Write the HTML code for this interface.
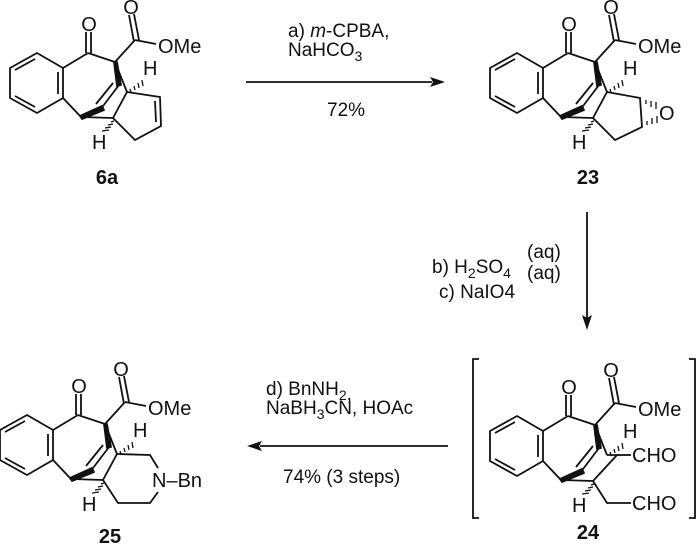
<!DOCTYPE html>
<html><head><meta charset="utf-8"><style>
html,body{margin:0;padding:0;background:#fff;}
svg{display:block;}
text{font-family:"Liberation Sans",Arial,sans-serif;fill:#111;}
</style></head><body>
<svg width="700" height="546" viewBox="0 0 700 546" xmlns="http://www.w3.org/2000/svg">
<defs>
<g id="core" stroke="#111" stroke-width="1.8" fill="none" stroke-linejoin="round">
  <polygon points="37,53 10,68 10,98 37,113 63,98 63,68"/>
  <line x1="35" y1="59" x2="15" y2="70"/>
  <line x1="15" y1="96" x2="35" y2="107"/>
  <line x1="58" y1="72" x2="58" y2="94"/>
  <line x1="63" y1="68" x2="88" y2="53"/>
  <line x1="86" y1="53" x2="86" y2="32"/>
  <line x1="91" y1="53" x2="91" y2="32"/>
  <line x1="88" y1="53" x2="115" y2="62"/>
  <line x1="115" y1="62" x2="135" y2="40"/>
  <line x1="134" y1="42" x2="129" y2="15"/>
  <line x1="139" y1="40" x2="134" y2="14"/>
  <line x1="135" y1="40" x2="156" y2="44"/>
  <line x1="63" y1="98" x2="81" y2="117"/>
  <line x1="81" y1="117" x2="113" y2="118"/>
  <polygon points="114,62 117,62 121,85 117,86" fill="#111"/>
  <line x1="119" y1="85" x2="100" y2="110"/>
  <line x1="113" y1="83" x2="96" y2="104"/>
  <polygon points="80,116 102,106 104,110 82,119" fill="#111"/>
  <line x1="115" y1="62" x2="127" y2="92"/>
</g>
<g id="hashes" stroke="#111" stroke-width="1.3">
  <line x1="130" y1="89" x2="131" y2="92"/>
  <line x1="134" y1="86" x2="135" y2="90"/>
  <line x1="138" y1="83" x2="139" y2="88"/>
  <line x1="142" y1="80" x2="143" y2="86"/>
  <line x1="111" y1="122" x2="114" y2="121"/>
  <line x1="108" y1="125" x2="113" y2="124"/>
  <line x1="105" y1="128" x2="111" y2="127"/>
  <line x1="102" y1="131" x2="109" y2="130"/>
</g>
<g id="labels" font-size="20">
  <text x="89" y="31" text-anchor="middle">O</text>
  <text x="131" y="14" text-anchor="middle">O</text>
  <text x="158" y="53">OMe</text>
  <text x="143" y="75">H</text>
  <text x="92" y="149">H</text>
</g>
</defs>

<g>
  <use href="#core"/><use href="#hashes"/><use href="#labels"/>
  <g stroke="#111" stroke-width="1.8" fill="none">
    <polyline points="127,92 160,97 161,126 135,140 113,118 127,92"/>
    <line x1="155" y1="101" x2="156" y2="122"/>
  </g>
</g>
<text x="107" y="184" font-size="20" font-weight="bold" text-anchor="middle">6a</text>

<g transform="translate(480,0)">
  <use href="#core"/><use href="#hashes"/><use href="#labels"/>
  <g stroke="#111" stroke-width="1.8" fill="none">
    <polyline points="127,92 160,98 162,127 135,140 113,118 127,92"/>
  </g>
  <g stroke="#111" stroke-width="1.3">
    <line x1="166" y1="100" x2="166" y2="104"/><line x1="171" y1="101" x2="171" y2="107"/><line x1="176" y1="102" x2="176" y2="109"/>
    <line x1="167" y1="121" x2="167" y2="125"/><line x1="172" y1="118" x2="172" y2="124"/><line x1="177" y1="116" x2="177" y2="123"/>
  </g>
  <text x="179" y="120" font-size="20">O</text>
</g>
<text x="588" y="184" font-size="20" font-weight="bold" text-anchor="middle">23</text>

<g transform="translate(480,363)">
  <use href="#core"/><use href="#hashes"/><use href="#labels"/>
  <g stroke="#111" stroke-width="1.8" fill="none">
    <polyline points="127,92 137,92 113,118"/>
    <line x1="137" y1="92" x2="151" y2="92"/>
    <polyline points="113,118 127,140 151,140"/>
  </g>
  <text x="152" y="99" font-size="20">CHO</text>
  <text x="152" y="147" font-size="20">CHO</text>
</g>
<g stroke="#111" stroke-width="1.8" fill="none">
  <polyline points="479,359 473,359 473,518 479,518"/>
  <polyline points="689,359 695,359 695,518 689,518"/>
</g>
<text x="588" y="539" font-size="20" font-weight="bold" text-anchor="middle">24</text>

<g transform="translate(-10,362)">
  <use href="#core"/><use href="#hashes"/><use href="#labels"/>
  <g stroke="#111" stroke-width="1.8" fill="none">
    <polyline points="127,92 160,93 168,106"/>
    <polyline points="168,130 160,141 128,141 113,118 127,92"/>
  </g>
  <text x="162" y="125" font-size="20">N–Bn</text>
</g>
<text x="110" y="543" font-size="20" font-weight="bold" text-anchor="middle">25</text>

<g stroke="#111" stroke-width="1.8">
  <line x1="246" y1="82" x2="432" y2="82"/>
  <line x1="587" y1="212" x2="587" y2="318"/>
  <line x1="260" y1="446" x2="448" y2="446"/>
</g>
<polygon points="445,82 430,77 433,82 430,87" fill="#111"/>
<polygon points="587,330 582,315 587,318 592,315" fill="#111"/>
<polygon points="247,446 262,441 259,446 262,451" fill="#111"/>

<g font-size="19">
  <text x="288" y="37">a)  <tspan font-style="italic">m</tspan>-CPBA,</text>
  <text x="288" y="56">NaHCO<tspan font-size="14" dy="5">3</tspan></text>
  <text x="327" y="116">72%</text>
  <text x="432" y="273">b) H<tspan font-size="14" dy="5">2</tspan><tspan dy="-5">SO</tspan><tspan font-size="14" dy="5">4</tspan></text>
  <text x="527" y="258">(aq)</text>
  <text x="527" y="279">(aq)</text>
  <text x="439" y="298">c) NaIO4</text>
  <text x="266" y="395">d) BnNH<tspan font-size="14" dy="5">2</tspan>,</text>
  <text x="266" y="414">NaBH<tspan font-size="14" dy="5">3</tspan><tspan dy="-5">CN, HOAc</tspan></text>
  <text x="283" y="483">74% (3 steps)</text>
</g>
</svg>
</body></html>
